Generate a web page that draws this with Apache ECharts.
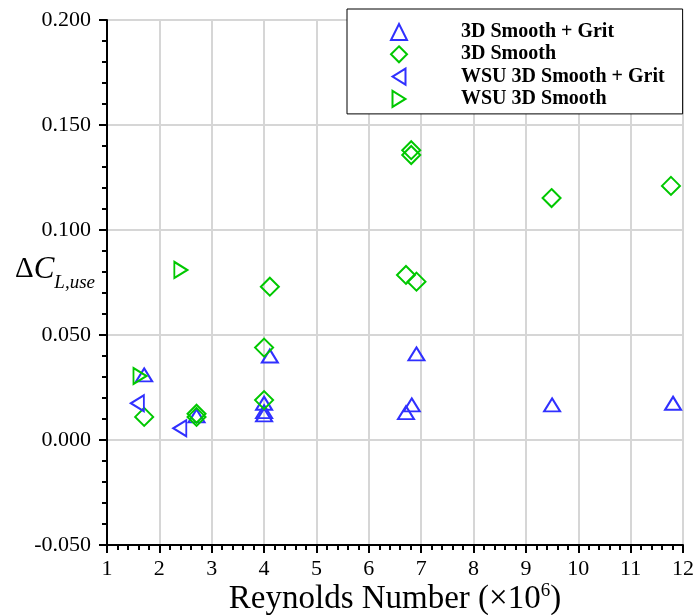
<!DOCTYPE html>
<html>
<head>
<meta charset="utf-8">
<script src="https://cdn.jsdelivr.net/npm/echarts@6/dist/echarts.min.js"></script>
<style>html,body{margin:0;padding:0;background:#fff;}#c{width:697px;height:615px;}</style>
</head>
<body>
<div id="c"></div>
<script>
const seriesNames = ['3D Smooth + Grit', '3D Smooth', 'WSU 3D Smooth + Grit', 'WSU 3D Smooth'];
const smoothGritX = [1.71, 2.71, 4.0, 4.0, 4.0, 4.11, 6.71, 6.82, 6.91, 9.5, 11.81];
const smoothGritY = [0.031, 0.0115, 0.012, 0.0135, 0.0175, 0.040, 0.013, 0.0167, 0.041, 0.0167, 0.0175];
const smoothX = [1.71, 2.71, 2.71, 4.0, 4.0, 4.11, 6.71, 6.81, 6.81, 6.91, 9.49, 11.77];
const smoothY = [0.011, 0.0125, 0.011, 0.019, 0.044, 0.073, 0.0786, 0.1357, 0.138, 0.0754, 0.1152, 0.121];
const wsuGritX = [1.58, 2.39];
const wsuGritY = [0.0175, 0.0056];
const wsuSmoothX = [1.63, 2.41];
const wsuSmoothY = [0.0305, 0.081];
const xTicks = [1,2,3,4,5,6,7,8,9,10,11,12];

const BLUE = '#3030ff', GREEN = '#00c800';
const serif = 'Liberation Serif';
function pts(xs, ys){ return xs.map((x,i)=>[x, ys[i]]); }
function mk(name, data, symbol, size, rot, color){
  return {name, type:'scatter', data, symbol, symbolSize:size, symbolRotate:rot,
    itemStyle:{color:'rgba(0,0,0,0)', borderColor:color, borderWidth:2, opacity:1},
    emphasis:{disabled:true}, z:5};
}
const chart = echarts.init(document.getElementById('c'), null, {renderer:'canvas'});
chart.setOption({
  animation:false,
  backgroundColor:'#fff',
  grid:{left:107, right:14, top:20, bottom:70, containLabel:false, outerBoundsMode:'none'},
  legend:{
    orient:'vertical', left:347, top:9,
    backgroundColor:'#fff', borderColor:'#000', borderWidth:1,
    padding:[13,18,5,43], itemWidth:16, itemHeight:16, itemGap:2.3,
    symbolKeepAspect:true,
    textStyle:{fontFamily:serif, fontWeight:'bold', fontSize:20, lineHeight:20, color:'#000', padding:[0,0,0,49]},
    data:[
      {name:seriesNames[0]},
      {name:seriesNames[1]},
      {name:seriesNames[2], icon:'path://M0,8 L13,0 L13,16 Z'},
      {name:seriesNames[3], icon:'path://M0,0 L13,8 L0,16 Z'}
    ]
  },
  xAxis:{
    type:'value', min:1, max:12, interval:1,
    axisLine:{onZero:false, lineStyle:{color:'#000', width:2}},
    axisTick:{show:true, length:8, lineStyle:{color:'#000', width:2}},
    minorTick:{show:true, splitNumber:5, length:5, lineStyle:{color:'#000', width:2}},
    splitLine:{show:true, lineStyle:{color:'#d6d6d6', width:2}},
    axisLabel:{fontFamily:serif, fontSize:22, color:'#000', margin:13,
      formatter:v=> xTicks.includes(v) ? String(v) : ''},
    name:'Reynolds Number (×10{sup|6})', nameLocation:'middle', nameGap:37, nameMoveOverlap:false,
    nameTextStyle:{fontFamily:serif, fontSize:33, color:'#000',
      rich:{sup:{fontFamily:serif, fontSize:19, color:'#000', padding:[0,0,16,0]}}}
  },
  yAxis:{
    type:'value', min:-0.05, max:0.2, interval:0.05,
    axisLine:{onZero:false, lineStyle:{color:'#000', width:2}},
    axisTick:{show:true, length:8, lineStyle:{color:'#000', width:2}},
    minorTick:{show:true, splitNumber:5, length:5, lineStyle:{color:'#000', width:2}},
    splitLine:{show:true, lineStyle:{color:'#d6d6d6', width:2}},
    axisLabel:{fontFamily:serif, fontSize:22, color:'#000', margin:16,
      formatter:v=> v.toFixed(3)},
    name:'{d|Δ}{c|C}{s|L,use}', nameLocation:'middle', nameRotate:0, nameGap:52, nameMoveOverlap:false,
    nameTextStyle:{
      align:'center', verticalAlign:'middle', padding:[0,0,26,0],
      rich:{
        d:{fontFamily:serif, fontSize:29, color:'#000'},
        c:{fontFamily:serif, fontSize:31, fontStyle:'italic', color:'#000'},
        s:{fontFamily:serif, fontSize:19, fontStyle:'italic', color:'#000', padding:[26,0,0,0]}
      }
    }
  },
  series:[
    mk(seriesNames[0], pts(smoothGritX, smoothGritY), 'triangle', [16,13], 0, BLUE),
    mk(seriesNames[1], pts(smoothX, smoothY), 'diamond', 18, 0, GREEN),
    mk(seriesNames[2], pts(wsuGritX, wsuGritY), 'triangle', [16,13], 90, BLUE),
    mk(seriesNames[3], pts(wsuSmoothX, wsuSmoothY), 'triangle', [16,13], -90, GREEN)
  ]
});
</script>
</body>
</html>
